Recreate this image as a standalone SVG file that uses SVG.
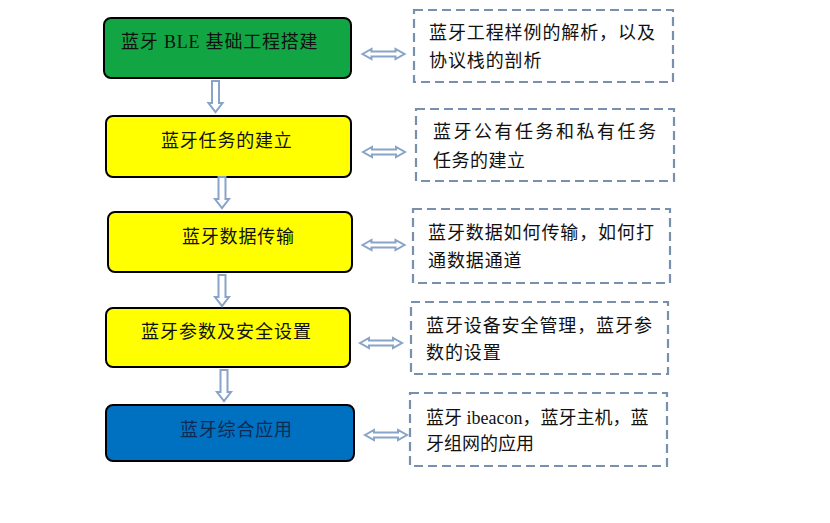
<svg xmlns="http://www.w3.org/2000/svg" xmlns:xlink="http://www.w3.org/1999/xlink" width="830" height="523" viewBox="0 0 830 523">
<style>
  .node { stroke: #000; stroke-width: 2; }
  .green { fill: #12a543; }
  .yellow { fill: #ffff00; }
  .blue { fill: #0070c0; }
  .note { fill: #fff; stroke: #7890ab; stroke-width: 2.2; stroke-dasharray: 9 5; }
  .t { font-family: "Liberation Serif", "Noto Sans CJK SC", serif; font-size: 18px; fill: #111; }
  .arr { fill: #fff; stroke: #88a4c8; stroke-width: 2; stroke-linejoin: miter; }
</style>
<defs>
  <path id="darr" d="M-3.5,0 H3.5 V22 H7 L0,31 L-7,22 H-3.5 Z"/>
  <path id="harr" d="M-21,0 L-12,-5 V-2.5 H12 V-5 L21,0 L12,5 V2.5 H-12 V5 Z"/>
</defs>
<rect width="830" height="523" fill="#fff"/>

<g id="n1">
  <rect class="node green" x="104" y="18" width="247" height="60" rx="7"/>
  <text class="t" x="121" y="48" letter-spacing="0.8">蓝牙 BLE 基础工程搭建</text>
</g>
<g id="n2">
  <rect class="node yellow" x="106" y="116" width="245" height="61" rx="7"/>
  <text class="t" x="161" y="147" letter-spacing="0.8">蓝牙任务的建立</text>
</g>
<g id="n3">
  <rect class="node yellow" x="108" y="212" width="244" height="60" rx="7"/>
  <text class="t" x="182" y="243" letter-spacing="0.8">蓝牙数据传输</text>
</g>
<g id="n4">
  <rect class="node yellow" x="106" y="308" width="244" height="59" rx="7"/>
  <text class="t" x="141" y="338" letter-spacing="1">蓝牙参数及安全设置</text>
</g>
<g id="n5">
  <rect class="node blue" x="106" y="405" width="248" height="56" rx="7"/>
  <text class="t" x="180" y="436" letter-spacing="0.8" style="fill:#0f2b55">蓝牙综合应用</text>
</g>

<g id="d1">
  <rect class="note" x="414" y="10" width="259" height="72"/>
  <text class="t" x="429" y="39" letter-spacing="0.9">蓝牙工程样例的解析，以及</text>
  <text class="t" x="429" y="67" letter-spacing="0.9">协议栈的剖析</text>
</g>
<g id="d2">
  <rect class="note" x="416" y="109" width="258" height="72"/>
  <text class="t" x="433" y="138" letter-spacing="2.5">蓝牙公有任务和私有任务</text>
  <text class="t" x="433" y="167" letter-spacing="0.5">任务的建立</text>
</g>
<g id="d3">
  <rect class="note" x="413" y="209" width="257" height="74"/>
  <text class="t" x="428" y="239" letter-spacing="0.9">蓝牙数据如何传输，如何打</text>
  <text class="t" x="428" y="267" letter-spacing="0.9">通数据通道</text>
</g>
<g id="d4">
  <rect class="note" x="411" y="302" width="257" height="72"/>
  <text class="t" x="426" y="332" letter-spacing="0.9">蓝牙设备安全管理，蓝牙参</text>
  <text class="t" x="426" y="359" letter-spacing="0.9">数的设置</text>
</g>
<g id="d5">
  <rect class="note" x="410" y="393" width="257" height="73"/>
  <text class="t" x="426" y="424">蓝牙 ibeacon，蓝牙主机，蓝</text>
  <text class="t" x="426" y="450">牙组网的应用</text>
</g>

<g id="connectors">
  <use xlink:href="#darr" href="#darr" class="arr" transform="translate(215.5,81)"/>
  <use xlink:href="#darr" href="#darr" class="arr" transform="translate(222,177)"/>
  <use xlink:href="#darr" href="#darr" class="arr" transform="translate(222,275)"/>
  <use xlink:href="#darr" href="#darr" class="arr" transform="translate(224,370)"/>
  <use xlink:href="#harr" href="#harr" class="arr" transform="translate(383.5,54)"/>
  <use xlink:href="#harr" href="#harr" class="arr" transform="translate(384,152)"/>
  <use xlink:href="#harr" href="#harr" class="arr" transform="translate(383.5,245)"/>
  <use xlink:href="#harr" href="#harr" class="arr" transform="translate(381,343)"/>
  <use xlink:href="#harr" href="#harr" class="arr" transform="translate(386,435)"/>
</g>
</svg>
